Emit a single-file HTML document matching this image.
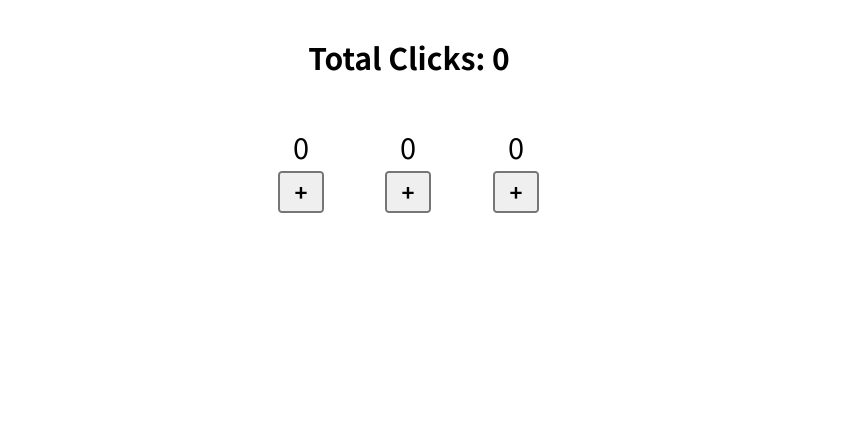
<!DOCTYPE html>
<html><head><meta charset="utf-8"><style>
body{margin:0;width:852px;height:442px;background:#fff;font-family:"Noto Sans CJK KR","Liberation Sans",sans-serif;position:relative;overflow:hidden;color:#000}
.title{position:absolute;left:0;width:818px;text-align:center;top:35px;font-size:30px;font-weight:bold;line-height:normal;margin:0}
.count{position:absolute;width:60px;text-align:center;top:126px;font-size:29px;line-height:normal}
.btn{position:absolute;top:171px;width:46px;height:42px;box-sizing:border-box;border:2px solid #767676;border-radius:4px;background:#efefef;font-family:inherit;font-size:22px;font-weight:bold;padding:0;line-height:38px;text-align:center;color:#000}
</style></head><body>
<h1 class="title">Total Clicks: 0</h1>
<div class="count" style="left:271px">0</div>
<button class="btn" style="left:278px">+</button>
<div class="count" style="left:378px">0</div>
<button class="btn" style="left:385px">+</button>
<div class="count" style="left:486px">0</div>
<button class="btn" style="left:493px">+</button>
</body></html>
